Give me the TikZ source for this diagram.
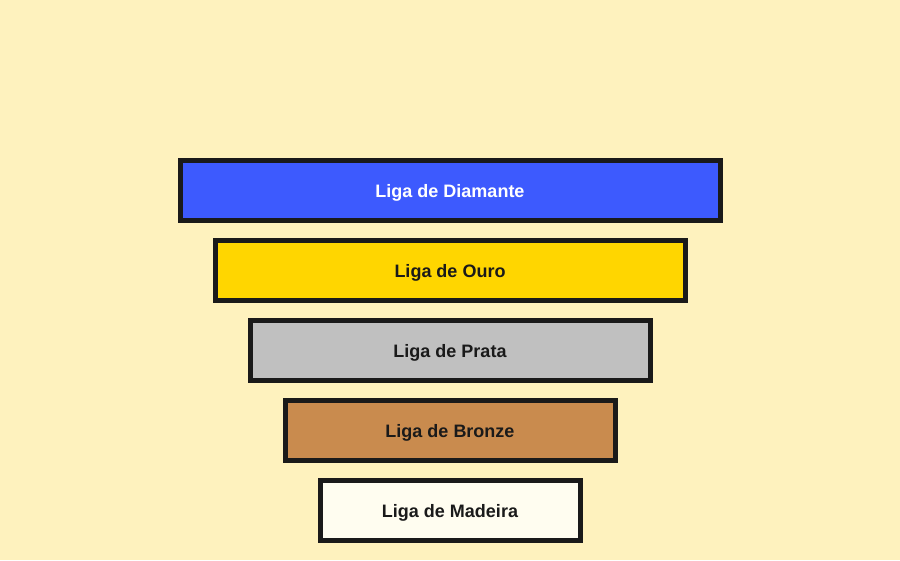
\documentclass[tikz,border=0pt]{standalone}
\usepackage{fontspec}
\setmainfont{Liberation Sans}
\definecolor{bg}{HTML}{FEF2BE}
\definecolor{edge}{HTML}{1A1A1A}
\definecolor{cdiam}{HTML}{3D5AFE}
\definecolor{couro}{HTML}{FFD600}
\definecolor{cprata}{HTML}{C0C0C0}
\definecolor{cbronze}{HTML}{C98B4E}
\definecolor{cmadeira}{HTML}{FFFDF0}
\begin{document}
\begin{tikzpicture}[x=1pt,y=-1pt,
  tier/.style={draw=edge, line width=5pt, rectangle, minimum height=60pt, inner sep=0pt,
    font=\fontsize{18}{21}\selectfont\bfseries, text=edge},
  lbl/.style={font=\fontsize{18}{21}\selectfont\bfseries, text=edge, inner sep=0pt}]
\fill[bg] (0,0) rectangle (900,560);
\useasboundingbox (0,0) rectangle (900,560);
\node[tier, fill=cdiam, minimum width=540pt] (diamante) at (450,190) {};
\node[tier, fill=couro, minimum width=470pt] (ouro) at (450,270) {};
\node[tier, fill=cprata, minimum width=400pt] (prata) at (450,350) {};
\node[tier, fill=cbronze, minimum width=330pt] (bronze) at (450,430) {};
\node[tier, fill=cmadeira, minimum width=260pt] (madeira) at (450,510) {};
\node[lbl, text=white, anchor=base] (tdiamante) at ([yshift=-7.5pt]diamante.center) {Liga de Diamante};
\node[lbl, anchor=base] (touro) at ([yshift=-7.5pt]ouro.center) {Liga de Ouro};
\node[lbl, anchor=base] (tprata) at ([yshift=-7.5pt]prata.center) {Liga de Prata};
\node[lbl, anchor=base] (tbronze) at ([yshift=-7.5pt]bronze.center) {Liga de Bronze};
\node[lbl, anchor=base] (tmadeira) at ([yshift=-7.5pt]madeira.center) {Liga de Madeira};
\end{tikzpicture}
\end{document}
